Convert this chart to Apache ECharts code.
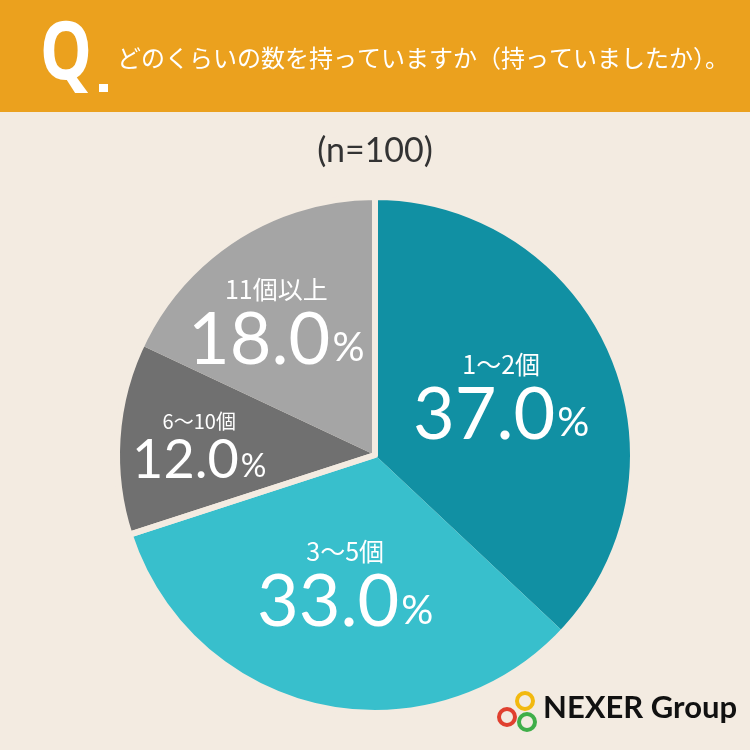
<!DOCTYPE html>
<html>
<head>
<meta charset="utf-8">
<script src="https://cdn.jsdelivr.net/npm/echarts@6/dist/echarts.min.js"></script>
<style>
  html, body { margin: 0; padding: 0; background: #F3EBE1; }
  #chart { width: 750px; height: 750px; }
</style>
</head>
<body>
<div id="chart"></div>
<script>
// data
const categories = ['1～2個', '3～5個', '6～10個', '11個以上'];
const shares = [37.0, 33.0, 12.0, 18.0];
const sliceColors = ['#1190A3', '#38BFCC', '#707070', '#A5A5A5'];
const labelOffsets = [[5, -5], [-1, 1], [-44, 1], [-28, -21]];
const bigLabel = [true, true, false, true];
// the teal pair and the grey pair are split apart by a gap
const groupOf = [0, 0, 1, 1];

const questionText = 'どのくらいの数を持っていますか（持っていましたか）。';
const sampleText = '(n=100)';

const jp = '"Noto Sans CJK JP", sans-serif';
const num = 'Lato, "Noto Sans", sans-serif';
const bg = '#F3EBE1';

let chart = echarts.init(document.getElementById('chart'));

let pieData = categories.map(function (name, i) {
    let big = bigLabel[i];
    return {
        name: name,
        value: shares[i],
        itemStyle: { color: sliceColors[i] },
        label: {
            offset: labelOffsets[i],
            rich: {
                n: { fontFamily: jp, fontSize: big ? 25 : 20, color: '#fff', lineHeight: big ? 36 : 26 },
                v: { fontFamily: num, fontSize: big ? 72 : 54, color: '#fff', lineHeight: big ? 66 : 52 },
                p: { fontFamily: num, fontSize: big ? 40 : 32, color: '#fff', padding: [big ? 16 : 12, 0, 0, 2] }
            }
        }
    };
});

let groupData = [0, 0];
shares.forEach(function (v, i) { groupData[groupOf[i]] += v; });

chart.setOption({
    backgroundColor: bg,
    animation: false,
    graphic: [
        { type: 'rect', shape: { x: 0, y: 0, width: 750, height: 112 }, style: { fill: '#EBA11E' } },
        { type: 'text', x: 40, y: 16, scaleX: 0.82, style: { text: 'Q', fill: '#fff', font: 'bold 80px "Noto Sans", sans-serif' } },
        { type: 'rect', shape: { x: 99, y: 84, width: 9, height: 8 }, style: { fill: '#fff' } },
        { type: 'text', left: 117, top: 46, style: { text: questionText, fill: '#fff', font: '24px ' + jp } },
        { type: 'text', left: 'center', top: 134, style: { text: sampleText, fill: '#333', font: '34px ' + num } },
        { type: 'circle', shape: { cx: 525, cy: 701, r: 8 }, style: { fill: 'none', stroke: '#F2B90F', lineWidth: 4 } },
        { type: 'circle', shape: { cx: 507, cy: 717, r: 8 }, style: { fill: 'none', stroke: '#E0402F', lineWidth: 4 } },
        { type: 'circle', shape: { cx: 527, cy: 722, r: 8 }, style: { fill: 'none', stroke: '#3FAE49', lineWidth: 4 } },
        { type: 'text', left: 543, top: 692, style: { text: 'NEXER Group', fill: '#111', font: 'bold 31px Lato, "Noto Sans", sans-serif' } }
    ],
    series: [
        {
            type: 'pie',
            center: [375, 455],
            radius: [0, 258],
            startAngle: 90,
            clockwise: true,
            label: {
                show: true,
                position: 'inside',
                align: 'center',
                formatter: function (p) {
                    return '{n|' + p.name + '}\n{v|' + p.value.toFixed(1) + '}{p|%}';
                }
            },
            labelLine: { show: false },
            emphasis: { disabled: true },
            data: pieData
        },
        {
            type: 'pie',
            center: [375, 455],
            radius: [0, 258],
            startAngle: 90,
            clockwise: true,
            silent: true,
            z: 3,
            label: { show: false },
            labelLine: { show: false },
            itemStyle: { color: 'rgba(0,0,0,0)', borderColor: bg, borderWidth: 6 },
            data: groupData.map(function (v) { return { value: v }; })
        }
    ]
});
</script>
</body>
</html>
